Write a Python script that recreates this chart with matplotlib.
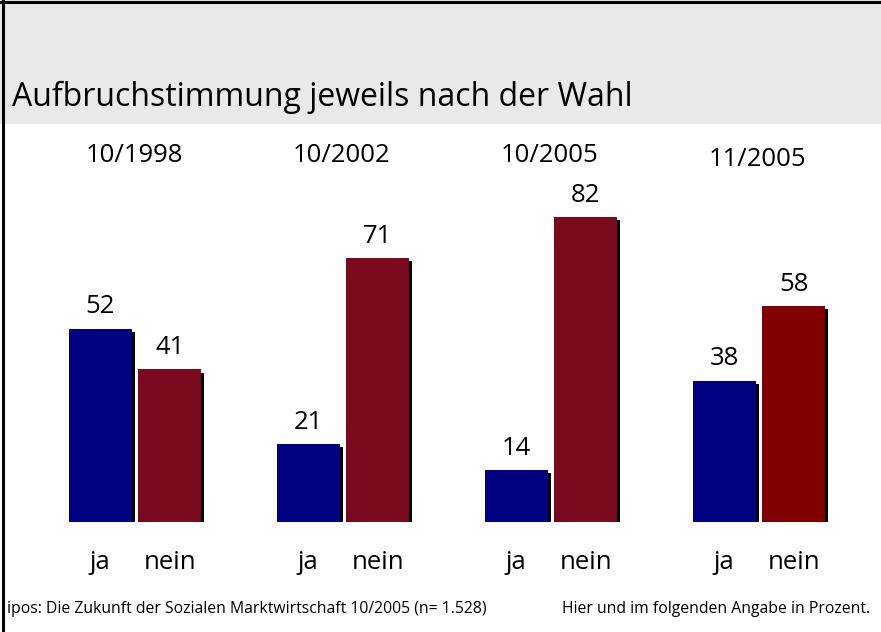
import matplotlib
matplotlib.use("Agg")
import matplotlib.pyplot as plt
import matplotlib.patheffects as pe
from matplotlib.patches import Rectangle
from matplotlib.lines import Line2D
import numpy as np

plt.rcParams["font.family"] = ["Open Sans", "DejaVu Sans"]

title = "Aufbruchstimmung jeweils nach der Wahl"
periods = ["10/1998", "10/2002", "10/2005", "11/2005"]
ja = [52, 21, 14, 38]
nein = [41, 71, 82, 58]
bar_labels = ["ja", "nein"]
source = "ipos: Die Zukunft der Sozialen Marktwirtschaft 10/2005 (n= 1.528)"
note = "Hier und im folgenden Angabe in Prozent."

blue = "#000080"
reds = ["#7b0a1e", "#7b0a1e", "#7b0a1e", "#800000"]

W, H = 881, 632
fig = plt.figure(figsize=(W / 100, H / 100), dpi=100)

# grey header band + border
fig.patches.append(Rectangle((0, 1 - 124 / H), 1, 124 / H, transform=fig.transFigure,
                             facecolor="#e9e9e9", edgecolor="none", zorder=0))
fig.lines.append(Line2D([0, 1], [1 - 2 / H, 1 - 2 / H], transform=fig.transFigure, color="black", lw=2.2))
fig.lines.append(Line2D([2.5 / W, 2.5 / W], [0, 1], transform=fig.transFigure, color="black", lw=2.2))

fig.text(12 / W, 1 - 97 / H, title, fontsize=23, va="center", ha="left")

ax = fig.add_axes([0, 110 / H, 1, 398 / H])
ax.set_xlim(-135 / 208, (W - 135) / 208)
ax.set_ylim(0, 398 / 3.72)
ax.axis("off")

x = np.arange(len(periods))
w = 63 / 208
off = 69.5 / 2 / 208
shadow = [pe.SimplePatchShadow(offset=(2.2, -2.2), shadow_rgbFace="black", alpha=1), pe.Normal()]

b1 = ax.bar(x - off, ja, width=w, color=blue)
b2 = ax.bar(x + off, nein, width=w, color=reds)
for b in list(b1) + list(b2):
    b.set_path_effects(shadow)

for i in range(len(periods)):
    ax.text(x[i] - off, ja[i] + 2.5, str(ja[i]), ha="center", va="bottom", fontsize=18.5)
    ax.text(x[i] + off, nein[i] + 2.5, str(nein[i]), ha="center", va="bottom", fontsize=18.5)
    ax.text(x[i] - off, -11, bar_labels[0], ha="center", va="center", fontsize=18.5)
    ax.text(x[i] + off, -11, bar_labels[1], ha="center", va="center", fontsize=18.5)
    py = 155 if i < 3 else 160
    fig.text((135 + 208 * i - 1) / W, 1 - py / H, periods[i], ha="center", va="center", fontsize=18.5)

fig.text(7 / W, 1 - 609 / H, source, fontsize=11.3, ha="left", va="center")
fig.text(870 / W, 1 - 609 / H, note, fontsize=11.3, ha="right", va="center")

fig.savefig("out.png", dpi=100)
